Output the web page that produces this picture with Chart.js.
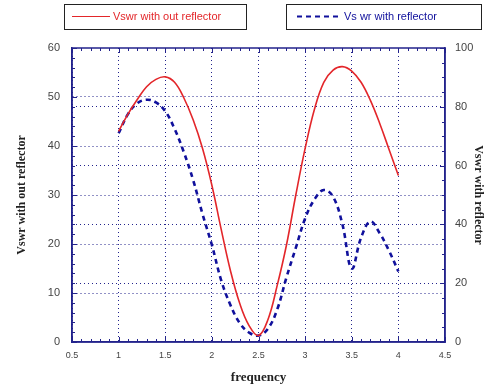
<!DOCTYPE html>
<html>
<head>
<meta charset="utf-8">
<script src="https://cdn.jsdelivr.net/npm/chart.js@4.4.1/dist/chart.umd.min.js"></script>
<style>
  html, body { margin: 0; padding: 0; background: #ffffff; }
  #wrap { width: 499px; height: 389px; position: relative; }
</style>
</head>
<body>
<div id="wrap"><canvas id="c" width="499" height="389"></canvas></div>
<script>
// ---- data ----
const frequency = [1.0, 1.1, 1.2, 1.3, 1.4, 1.5, 1.6, 1.7, 1.8, 1.9, 2.0, 2.1, 2.2, 2.3, 2.4, 2.5, 2.6, 2.7, 2.8, 2.9, 3.0, 3.1, 3.2, 3.3, 3.4, 3.5, 3.6, 3.7, 3.8, 3.9, 4.0];
const vswrWithoutReflector = [43.0, 46.5, 49.5, 52.1, 53.6, 54.1, 53.0, 49.8, 45.3, 39.5, 32.0, 23.0, 14.5, 7.8, 3.3, 1.3, 4.5, 11.5, 19.8, 30.0, 39.5, 47.5, 53.0, 55.5, 56.2, 55.3, 53.0, 49.3, 44.6, 39.3, 34.0];
const vswrWithReflector = [71.0, 77.5, 81.2, 82.4, 81.5, 78.5, 72.5, 64.5, 55.0, 43.5, 33.0, 21.0, 12.5, 6.4, 3.2, 2.2, 4.5, 11.0, 22.0, 32.0, 42.0, 48.5, 51.7, 49.4, 40.0, 25.0, 35.5, 41.0, 37.0, 31.0, 24.0];
const seriesNames = ["Vswr with out reflector", "Vs wr with reflector"];
const xTitle = "frequency";
const yLeftTitle = "Vswr with out reflector";
const yRightTitle = "Vswr with reflector";

const NAVY = "#23238c";
const RED = "#e3262a";
const BLUE = "#10109c";

const toPoints = (xs, ys) => xs.map((x, i) => ({ x: x, y: ys[i] }));

const frameAndTicks = {
  id: "frameAndTicks",
  afterDatasetsDraw(chart) {
    const { ctx, chartArea: a, scales } = chart;
    ctx.save();
    ctx.strokeStyle = NAVY;
    ctx.lineWidth = 1.5;
    ctx.strokeRect(a.left, a.top, a.right - a.left, a.bottom - a.top);
    ctx.lineWidth = 1;
    ctx.beginPath();
    for (let k = 5; k <= 45; k++) {
      const v = k / 10;
      const px = Math.round(scales.x.getPixelForValue(v)) + 0.5;
      const len = (k % 5 === 0) ? 5 : 3;
      ctx.moveTo(px, a.bottom); ctx.lineTo(px, a.bottom - len);
      ctx.moveTo(px, a.top); ctx.lineTo(px, a.top + len);
    }
    for (let v = 0; v <= 60; v += 2) {
      const py = Math.round(scales.y.getPixelForValue(v)) + 0.5;
      const len = (v % 10 === 0) ? 5 : 3;
      ctx.moveTo(a.left, py); ctx.lineTo(a.left + len, py);
    }
    for (let v = 0; v <= 100; v += 5) {
      const py = Math.round(scales.y1.getPixelForValue(v)) + 0.5;
      const len = (v % 20 === 0) ? 5 : 3;
      ctx.moveTo(a.right, py); ctx.lineTo(a.right - len, py);
    }
    ctx.stroke();
    ctx.restore();
  }
};

const boxLegend = {
  id: "boxLegend",
  afterDraw(chart) {
    const ctx = chart.ctx;
    ctx.save();
    ctx.font = "11px 'Liberation Sans', Arial, sans-serif";
    ctx.textBaseline = "middle";
    ctx.strokeStyle = "#222";
    ctx.lineWidth = 1;
    ctx.strokeRect(64.5, 4.5, 182, 25);
    ctx.strokeStyle = RED; ctx.lineWidth = 1.2;
    ctx.beginPath(); ctx.moveTo(72, 16.5); ctx.lineTo(110, 16.5); ctx.stroke();
    ctx.fillStyle = RED;
    ctx.fillText(seriesNames[0], 113, 17);
    ctx.strokeStyle = "#222"; ctx.lineWidth = 1;
    ctx.strokeRect(286.5, 4.5, 195, 25);
    ctx.strokeStyle = BLUE; ctx.lineWidth = 2;
    ctx.setLineDash([5, 4]);
    ctx.beginPath(); ctx.moveTo(297, 16.5); ctx.lineTo(342, 16.5); ctx.stroke();
    ctx.setLineDash([]);
    ctx.fillStyle = BLUE;
    ctx.fillText(seriesNames[1], 344, 17);
    ctx.restore();
  }
};

const gridColor = (edgeMax) => (c) => {
  if (!c.tick) return NAVY;
  const v = c.tick.value;
  return (v === 0 || v === edgeMax) ? "rgba(0,0,0,0)" : NAVY;
};

new Chart(document.getElementById("c"), {
  type: "line",
  data: {
    datasets: [
      {
        label: seriesNames[0],
        data: toPoints(frequency, vswrWithoutReflector),
        yAxisID: "y",
        borderColor: RED,
        borderWidth: 1.6,
        pointRadius: 0,
        tension: 0.4,
        fill: false
      },
      {
        label: seriesNames[1],
        data: toPoints(frequency, vswrWithReflector),
        yAxisID: "y1",
        borderColor: BLUE,
        borderWidth: 2.6,
        borderDash: [5, 4],
        pointRadius: 0,
        tension: 0.4,
        fill: false
      }
    ]
  },
  options: {
    responsive: false,
    animation: false,
    layout: { padding: { top: 48, left: 0, right: 0, bottom: 0 } },
    plugins: { legend: { display: false }, tooltip: { enabled: false } },
    scales: {
      x: {
        type: "linear",
        min: 0.5, max: 4.5,
        ticks: { stepSize: 0.5, color: "#444", padding: 8, font: { family: "'Liberation Sans', Arial, sans-serif", size: 9 },
                 callback: (v) => String(Math.round(v * 10) / 10) },
        grid: { color: gridColor(4.5), lineWidth: 1, drawTicks: false },
        border: { display: true, color: NAVY, width: 1.5, dash: [1, 3] },
        title: { display: true, text: xTitle, color: "#222", padding: { top: 0, bottom: 4 }, font: { family: "'Liberation Serif', 'Times New Roman', serif", size: 13, weight: "bold" } },
        afterFit(s) { s.height = 47; }
      },
      y: {
        position: "left",
        min: 0, max: 60,
        ticks: { stepSize: 10, color: "#444", padding: 12, font: { family: "'Liberation Sans', Arial, sans-serif", size: 11 } },
        grid: { color: gridColor(60), lineWidth: 1, drawTicks: false },
        border: { display: true, color: NAVY, width: 1.5, dash: [1, 3] },
        title: { display: true, text: yLeftTitle, color: "#222", padding: { top: 15, bottom: 0 }, font: { family: "'Liberation Serif', 'Times New Roman', serif", size: 12, weight: "bold" } },
        afterFit(s) { s.width = 72; }
      },
      y1: {
        position: "right",
        min: 0, max: 100,
        ticks: { stepSize: 20, color: "#444", padding: 10, font: { family: "'Liberation Sans', Arial, sans-serif", size: 11 } },
        grid: { color: gridColor(100), lineWidth: 1, drawTicks: false },
        border: { display: true, color: NAVY, width: 1.5, dash: [1, 3] },
        title: { display: true, text: yRightTitle, color: "#222", padding: { top: 14, bottom: 0 }, font: { family: "'Liberation Serif', 'Times New Roman', serif", size: 12, weight: "bold" } },
        afterFit(s) { s.width = 54; }
      }
    }
  },
  plugins: [frameAndTicks, boxLegend]
});
</script>
</body>
</html>
